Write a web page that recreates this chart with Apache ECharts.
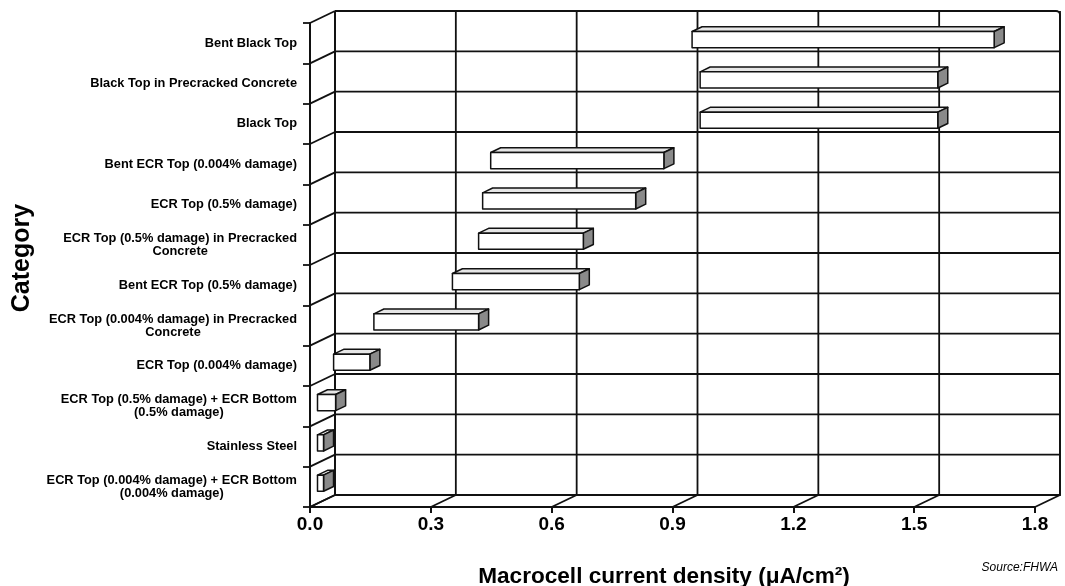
<!DOCTYPE html>
<html>
<head>
<meta charset="utf-8">
<script src="https://cdn.jsdelivr.net/npm/echarts@6/dist/echarts.min.js"></script>
<style>
  html, body { margin: 0; padding: 0; background: #fff; }
  #chart { width: 1065px; height: 586px; }
</style>
</head>
<body>
<div id="chart"></div>
<script>
// Macrocell current density ranges per specimen type (µA/cm²), top to bottom
const categories = [
  'Bent Black Top',
  'Black Top in Precracked Concrete',
  'Black Top',
  'Bent ECR Top (0.004% damage)',
  'ECR Top (0.5% damage)',
  'ECR Top (0.5% damage) in Precracked\nConcrete',
  'Bent ECR Top (0.5% damage)',
  'ECR Top (0.004% damage) in Precracked\nConcrete',
  'ECR Top (0.004% damage)',
  'ECR Top (0.5% damage) + ECR Bottom\n(0.5% damage)',
  'Stainless Steel',
  'ECR Top (0.004% damage) + ECR Bottom\n(0.004% damage)'
];
const rangeLow  = [0.93, 0.95, 0.95, 0.43, 0.41, 0.40, 0.335, 0.14, 0.04, 0.0, 0.0, 0.0];
const rangeHigh = [1.68, 1.54, 1.54, 0.86, 0.79, 0.66, 0.65, 0.40, 0.13, 0.045, 0.015, 0.015];
const xTicks = [0, 0.3, 0.6, 0.9, 1.2, 1.5, 1.8];

const FONT = "'Liberation Sans', Arial, Helvetica, sans-serif";
const INK = '#111';
// Offset from the front plane to the back wall of the pseudo-3D box
const DEPTH = [25, -12];

function wallLines(params, api) {
  const cs = params.coordSys;
  const dx = DEPTH[0], dy = DEPTH[1];
  const band = api.size([0, 1])[1];
  const lw = 1.8;
  const children = [];
  const line = (x1, y1, x2, y2) => children.push({
    type: 'line', shape: { x1, y1, x2, y2 },
    style: { stroke: INK, lineWidth: lw }
  });
  // back wall border
  children.push({
    type: 'rect',
    shape: { x: cs.x + dx, y: cs.y + dy, width: cs.width, height: cs.height, r: [0, 4, 0, 0] },
    style: { fill: 'none', stroke: INK, lineWidth: lw }
  });
  // category boundaries: back wall rows and left wall diagonals
  for (let i = 0; i <= categories.length; i++) {
    const y = api.coord([0, Math.min(i, categories.length - 1)])[1] + (i < categories.length ? -band / 2 : band / 2);
    const x0 = cs.x;
    line(x0, y, x0 + dx, y + dy);
    if (i > 0 && i < categories.length) line(x0 + dx, y + dy, cs.x + cs.width + dx, y + dy);
  }
  // value ticks: back wall columns and floor diagonals
  const yb = cs.y + cs.height;
  xTicks.forEach(v => {
    const x = api.coord([v, 0])[0];
    line(x, yb, x + dx, yb + dy);
    line(x + dx, cs.y + dy, x + dx, yb + dy);
  });
  return { type: 'group', children };
}

function rangeBox(params, api) {
  const idx = api.value(0);
  const a = api.coord([api.value(1), idx]);
  const b = api.coord([api.value(2), idx]);
  const band = api.size([0, 1])[1];
  const h = band * 0.4;
  const f0 = 0.3, f1 = 0.7;
  const ox = DEPTH[0] * f0, oy = DEPTH[1] * f0;
  const ddx = DEPTH[0] * (f1 - f0), ddy = DEPTH[1] * (f1 - f0);
  const x0 = a[0] + ox, x1 = b[0] + ox;
  const yT = a[1] + oy - h / 2, yB = a[1] + oy + h / 2;
  const edge = { stroke: INK, lineWidth: 1.5, lineJoin: 'round' };
  return {
    type: 'group',
    children: [
      { type: 'polygon', shape: { points: [[x0, yT], [x1, yT], [x1 + ddx, yT + ddy], [x0 + ddx, yT + ddy]] },
        style: Object.assign({ fill: '#e6e6e6' }, edge) },
      { type: 'polygon', shape: { points: [[x1, yT], [x1 + ddx, yT + ddy], [x1 + ddx, yB + ddy], [x1, yB]] },
        style: Object.assign({ fill: '#8a8a8a' }, edge) },
      { type: 'rect', shape: { x: x0, y: yT, width: x1 - x0, height: h },
        style: Object.assign({ fill: '#ffffff' }, edge) }
    ]
  };
}

const chart = echarts.init(document.getElementById('chart'));
chart.setOption({
  backgroundColor: '#fff',
  animation: false,
  textStyle: { fontFamily: FONT },
  grid: { left: 310, right: 30, top: 23, bottom: 79 },
  xAxis: {
    type: 'value', min: 0, max: 1.8, interval: 0.3,
    axisLine: { show: true, lineStyle: { color: INK, width: 2 } },
    axisTick: { show: true, length: 6, lineStyle: { color: INK, width: 2 } },
    axisLabel: {
      margin: 8, color: '#000', fontSize: 19, fontWeight: 'bold', fontFamily: FONT,
      formatter: v => v.toFixed(1)
    },
    splitLine: { show: false }
  },
  yAxis: {
    type: 'category', data: categories, inverse: true,
    axisLine: { show: true, lineStyle: { color: INK, width: 2 } },
    axisTick: { show: true, length: 7, lineStyle: { color: INK, width: 1.8 } },
    axisLabel: {
      margin: 13, color: '#000', fontFamily: FONT,
      formatter: v => v.split('\n').map(s => '{c|' + s + '}').join('\n'),
      rich: { c: { align: 'center', fontSize: 12.8, fontWeight: 'bold', lineHeight: 13, fontFamily: FONT, color: '#000' } }
    },
    splitLine: { show: false }
  },
  graphic: [
    { type: 'text', x: 22, y: 258, rotation: Math.PI / 2,
      style: { text: 'Category', font: 'bold 25px ' + FONT, fill: '#000', align: 'center', verticalAlign: 'middle' } },
    { type: 'text', x: 664, y: 577,
      style: { text: 'Macrocell current density (μA/cm²)', font: 'bold 22.6px ' + FONT, fill: '#000', align: 'center', verticalAlign: 'middle' } },
    { type: 'text', x: 1058, y: 568,
      style: { text: 'Source:FHWA', font: 'italic 12px ' + FONT, fill: '#000', align: 'right', verticalAlign: 'middle' } }
  ],
  series: [
    { type: 'custom', renderItem: wallLines, data: [[0, 0]], z: 1, silent: true },
    { type: 'custom', renderItem: rangeBox, z: 2,
      encode: { x: [1, 2], y: 0 },
      data: categories.map((c, i) => [i, rangeLow[i], rangeHigh[i]]) }
  ]
});
</script>
</body>
</html>
